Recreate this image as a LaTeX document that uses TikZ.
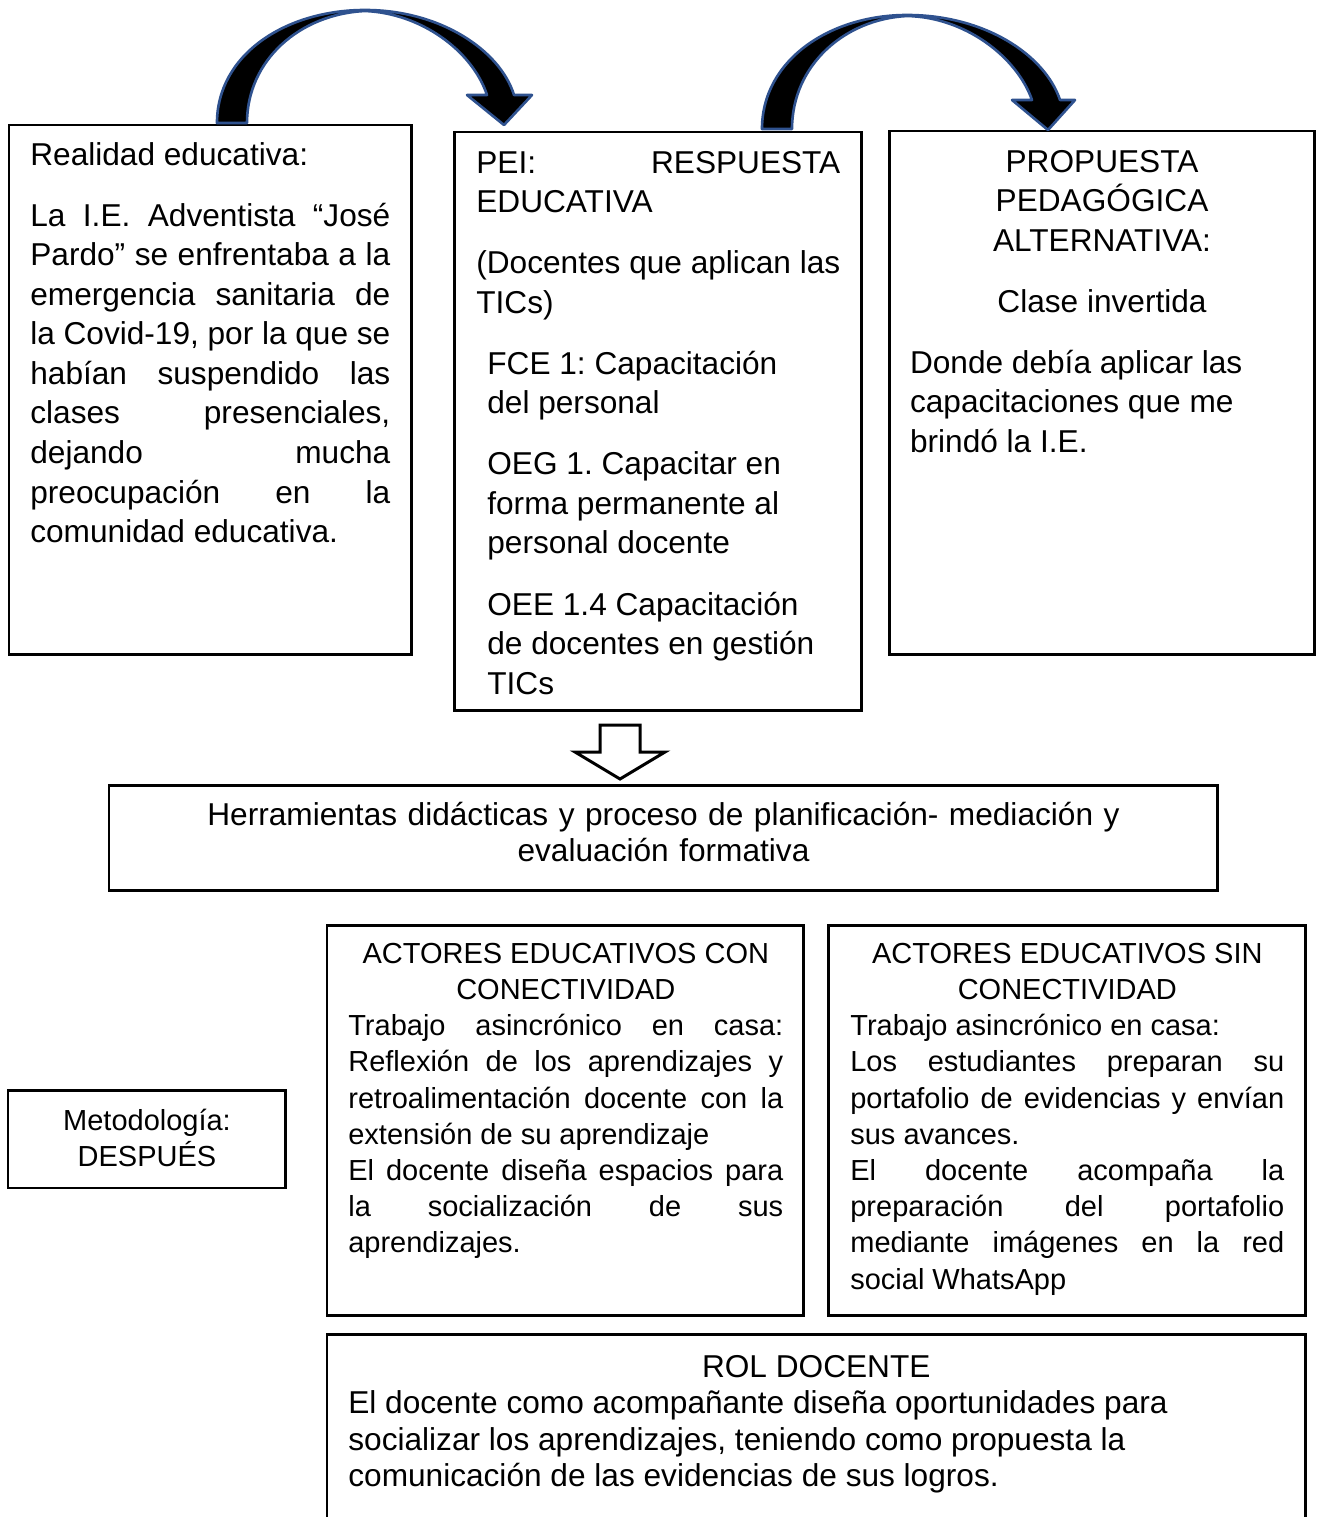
\documentclass[tikz,border=0pt]{standalone}
\usepackage{fontspec}
\setmainfont{Liberation Sans}
\setlength{\parindent}{0pt}
\hyphenpenalty=10000
\exhyphenpenalty=10000
\frenchspacing
\definecolor{arrowblue}{RGB}{47,82,143}
\newcommand{\hdstrut}{\rule{0pt}{16pt}}
\newcommand{\pgap}{\par\vspace{0.43cm}}

\begin{document}
\begin{tikzpicture}
  [x=0.02cm,y=-0.02cm,
   boxframe/.style={draw,line width=1.7pt,rectangle,inner sep=0pt,outer sep=0pt,anchor=north west},
   bigtxt/.style={inner sep=0pt,anchor=north west,align=justify,font={\fontsize{18}{22.5}\selectfont}},
   midtxt/.style={inner sep=0pt,anchor=north west,align=justify,font={\fontsize{16.5}{20.6}\selectfont}},
   curvearrow/.style={fill=black,draw=arrowblue,line width=1.5pt,line join=round}]
  \useasboundingbox (0,0) rectangle (1321,1517);

  % marcos
  \node[boxframe,minimum width=8.06cm,minimum height=10.6cm] (realidad) at (9,125) {};
  \node[boxframe,minimum width=8.16cm,minimum height=11.58cm] (pei) at (454,132) {};
  \node[boxframe,minimum width=8.52cm,minimum height=10.48cm] (propuesta) at (889,131) {};
  \node[boxframe,minimum width=22.18cm,minimum height=2.12cm] (herramientas) at (109,785) {};
  \node[boxframe,minimum width=5.56cm,minimum height=1.96cm] (metodologia) at (8,1090) {};
  \node[boxframe,minimum width=9.54cm,minimum height=7.82cm] (actorescon) at (327,925) {};
  \node[boxframe,minimum width=9.56cm,minimum height=7.82cm] (actoressin) at (828,925) {};
  \node[boxframe,minimum width=19.58cm,minimum height=4.4cm] (roldocente) at (327,1334) {};

  % textos
  \node[bigtxt,text width=7.2cm] (realidadtxt) at (30,136.8) {\hdstrut Realidad educativa:\pgap
    La I.E. Adventista “José\linebreak
    Pardo” se enfrentaba a la\linebreak
    emergencia sanitaria de\linebreak
    la Covid-19, por la que se\linebreak
    habían suspendido las\linebreak
    clases presenciales,\linebreak
    dejando mucha\linebreak
    preocupación en la\linebreak
    comunidad educativa.};
  \node[bigtxt,text width=7.28cm] (peitxt) at (476,144.8) {\hdstrut PEI: RESPUESTA\linebreak
    EDUCATIVA\pgap
    (Docentes que aplican las\linebreak
    TICs)\pgap
    \raggedright\leftskip=0.22cm
    FCE 1: Capacitación\\ del personal\pgap
    OEG 1. Capacitar en\\ forma permanente al\\ personal docente\pgap
    OEE 1.4 Capacitación\\ de docentes en gestión\\ TICs\par};
  \node[bigtxt,text width=7.68cm,anchor=north] (propuestatxt) at (1102,143.8) {{\centering\hdstrut PROPUESTA\\ PEDAGÓGICA\\ ALTERNATIVA:\pgap
    Clase invertida\pgap}
    \raggedright Donde debía aplicar las\\ capacitaciones que me\\ brindó la I.E.\par};
  \node[bigtxt,text width=22cm,anchor=north,align=center,font={\fontsize{18}{20.8}\selectfont}] (herramientastxt) at (663.5,796.8)
    {\hdstrut Herramientas didácticas y proceso de planificación- mediación y\\ evaluación formativa};
  \node[midtxt,text width=5cm,anchor=north,align=center] (metodologiatxt) at (147,1101.8) {\hdstrut Metodología:\\ DESPUÉS};
  \node[midtxt,text width=8.7cm] (actorescontxt) at (348,934.8) {{\centering\hdstrut ACTORES EDUCATIVOS CON\\ CONECTIVIDAD\par}
    Trabajo asincrónico en casa:\linebreak
    Reflexión de los aprendizajes y\linebreak
    retroalimentación docente con la\linebreak
    extensión de su aprendizaje\par
    El docente diseña espacios para\linebreak
    la socialización de sus\linebreak
    aprendizajes.};
  \node[midtxt,text width=8.68cm] (actoressintxt) at (850,934.8) {{\centering\hdstrut ACTORES EDUCATIVOS SIN\\ CONECTIVIDAD\par}
    Trabajo asincrónico en casa:\par
    Los estudiantes preparan su\linebreak
    portafolio de evidencias y envían\linebreak
    sus avances.\par
    El docente acompaña la\linebreak
    preparación del portafolio\linebreak
    mediante imágenes en la red\linebreak
    social WhatsApp};
  \node[bigtxt,text width=18.72cm,font={\fontsize{18}{20.8}\selectfont}] (roldocentetxt) at (348,1348.8) {{\centering\hdstrut ROL DOCENTE\par}
    \raggedright El docente como acompañante diseña oportunidades para\\
    socializar los aprendizajes, teniendo como propuesta la\\
    comunicación de las evidencias de sus logros.\par};

  % flechas
  \draw[curvearrow] (217,123) .. controls (217,55) and (285,10) .. (365,10)
    .. controls (440,10) and (500,50) .. (514,95) -- (532,95) -- (504,125) -- (467,95) -- (487,95)
    .. controls (472,50) and (420,13) .. (365,11) .. controls (300,14) and (247,60) .. (247,123) -- cycle;
  \draw[curvearrow] (762,129) .. controls (762,60) and (830,15) .. (907,15)
    .. controls (985,15) and (1045,55) .. (1060,100) -- (1075,100) -- (1048,130) -- (1012,100) -- (1032,100)
    .. controls (1017,57) and (965,17) .. (907,16) .. controls (845,19) and (792,65) .. (792,129) -- cycle;
  \draw[line width=1.7pt] (600,725) -- (640,725) -- (640,752) -- (665,752) -- (620,779) -- (575,752) -- (600,752) -- cycle;

\end{tikzpicture}
\end{document}
